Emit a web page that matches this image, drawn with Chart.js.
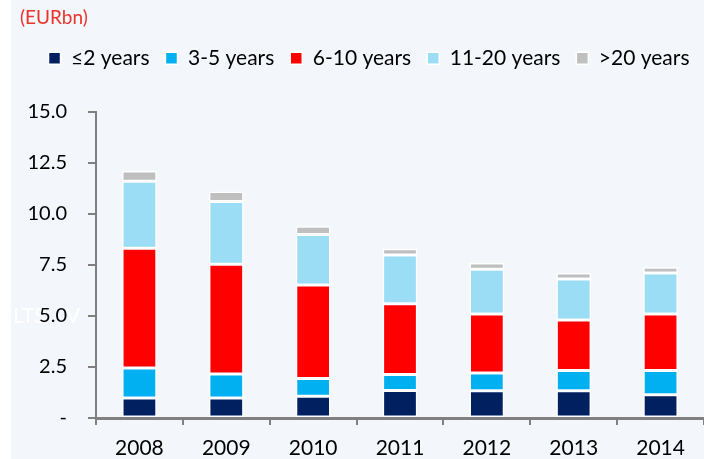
<!DOCTYPE html>
<html>
<head>
<meta charset="utf-8">
<script src="https://cdn.jsdelivr.net/npm/chart.js@4.4.1/dist/chart.umd.min.js"></script>
<style>
  html, body { margin: 0; padding: 0; background: #ffffff; }
  #wrap { width: 704px; height: 459px; }
</style>
</head>
<body>
<div id="wrap"><canvas id="grafico" width="704" height="459"></canvas></div>
<script>
// dados (EURbn)
const anos = ["2008", "2009", "2010", "2011", "2012", "2013", "2014"];
const ate2 = [0.98, 0.98, 1.06, 1.35, 1.33, 1.33, 1.14];
const de3a5 = [1.47, 1.17, 0.88, 0.78, 0.88, 1.00, 1.19];
const de6a10 = [5.86, 5.38, 4.57, 3.47, 2.89, 2.47, 2.77];
const de11a20 = [3.29, 3.08, 2.48, 2.38, 2.19, 2.01, 2.00];
const mais20 = [0.50, 0.49, 0.40, 0.31, 0.30, 0.29, 0.29];
const ticksY = [0, 2.5, 5, 7.5, 10, 12.5, 15];

const fonte = "Lato, 'Open Sans', sans-serif";

// fundo + texto fantasma atrás dos rótulos
const fundo = {
  id: "fundo",
  beforeDraw(chart) {
    const ctx = chart.ctx;
    ctx.save();
    ctx.fillStyle = "#F3F6FA";
    ctx.fillRect(11, 0, chart.width - 11, chart.height);
    ctx.fillStyle = "#ffffff";
    ctx.font = "21px " + fonte;
    ctx.textBaseline = "middle";
    ctx.fillText("LTS", 13, 316);
    ctx.fillText("V", 66, 316);
    ctx.restore();
  }
};

// altura extra da legenda e deslocamentos
const legendaAltura = {
  id: "legendaAltura",
  beforeInit(chart) {
    const fit = chart.legend.fit;
    chart.legend.fit = function () {
      fit.call(this);
      this.height = 80;
    };
  },
  afterLayout(chart) {
    chart.legend.left += 13;
    chart.legend.right += 13;
    if (chart.titleBlock) {
      chart.titleBlock.left += 12;
      chart.titleBlock.right += 12;
    }
  }
};

const cores = ["#002060", "#00B0F0", "#FF0000", "#9CDDF6", "#BFBFBF"];
const nomes = ["≤2 years", "3-5 years", "6-10 years", "11-20 years", ">20 years"];
const series = [ate2, de3a5, de6a10, de11a20, mais20];

const ctx = document.getElementById("grafico").getContext("2d");
new Chart(ctx, {
  type: "bar",
  data: {
    labels: anos,
    datasets: series.map((d, i) => ({
      label: nomes[i],
      data: d,
      backgroundColor: cores[i],
      borderColor: "#ffffff",
      borderWidth: 1.5,
      borderSkipped: false,
      barPercentage: 0.4,
      categoryPercentage: 1
    }))
  },
  options: {
    responsive: false,
    animation: false,
    layout: { padding: { left: 8, right: 0, top: 0, bottom: 0 } },
    plugins: {
      title: {
        display: true,
        text: "(EURbn)",
        align: "start",
        color: "#E8342C",
        font: { family: fonte, size: 19, weight: "normal" },
        padding: { top: 6, bottom: 3 }
      },
      legend: {
        position: "top",
        labels: {
          color: "#000",
          font: { family: fonte, size: 21 },
          boxWidth: 12,
          boxHeight: 12,
          padding: 16
        }
      },
      tooltip: { enabled: false }
    },
    scales: {
      x: {
        stacked: true,
        afterFit: s => { s.height = 41; },
        grid: { display: true, drawOnChartArea: false, drawTicks: true, tickLength: 7, color: "#808080", lineWidth: 2 },
        border: { display: true, color: "#808080", width: 3 },
        ticks: { color: "#000", font: { family: fonte, size: 21 }, padding: 11 }
      },
      y: {
        stacked: true,
        min: 0,
        max: 15,
        afterFit: s => { s.width = 88; },
        afterBuildTicks: s => { s.ticks = ticksY.map(v => ({ value: v })); },
        grid: { display: true, drawOnChartArea: false, drawTicks: true, tickLength: 8, color: "#808080", lineWidth: 2 },
        border: { display: true, color: "#808080", width: 2 },
        ticks: {
          color: "#000",
          font: { family: fonte, size: 20 },
          padding: 21,
          callback: v => v === 0 ? "-" : v.toFixed(1)
        }
      }
    }
  },
  plugins: [fundo, legendaAltura]
});
</script>
</body>
</html>
